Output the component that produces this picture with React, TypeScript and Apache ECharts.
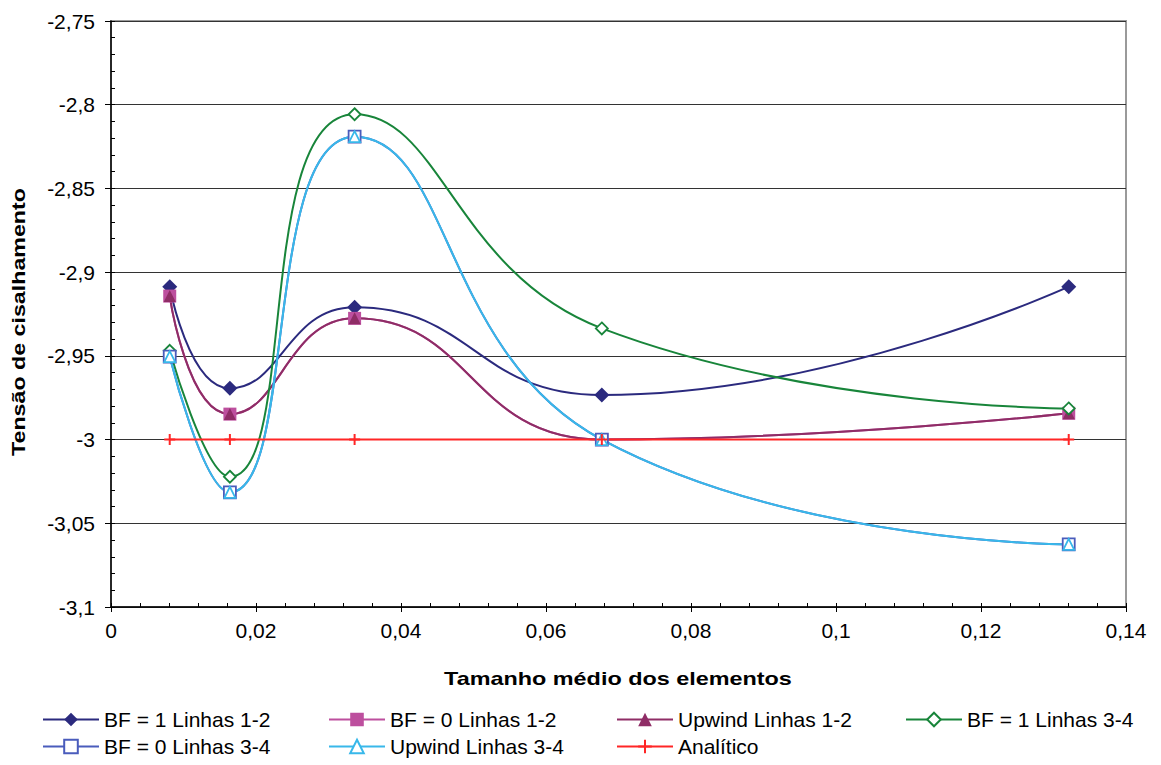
import React, { useEffect, useRef } from "react";
import * as echarts from "echarts";

const xValues = [0.0081, 0.0164, 0.0336, 0.0677, 0.1321];
const bf1L12 = [-2.9087, -2.9694, -2.921, -2.9734, -2.9087];
const bf0L12 = [-2.9143, -2.9848, -2.9276, -3.0, -2.9843];
const upwL12 = [-2.9143, -2.9848, -2.9276, -3.0, -2.9843];
const bf1L34 = [-2.947, -3.0222, -2.8057, -2.9336, -2.9814];
const bf0L34 = [-2.9505, -3.0315, -2.8191, -3.0, -3.0626];
const upwL34 = [-2.9505, -3.0315, -2.8191, -3.0, -3.0626];
const analitico = [-3, -3, -3, -3, -3];

const seriesNames = [
  "BF = 1 Linhas 1-2",
  "BF = 0 Linhas 1-2",
  "Upwind Linhas 1-2",
  "BF = 1 Linhas 3-4",
  "BF = 0 Linhas 3-4",
  "Upwind Linhas 3-4",
  "Analítico",
];

const xTitle = "Tamanho médio dos elementos";
const yTitle = "Tensão de cisalhamento";

const FONT = "'Liberation Sans', Arial, sans-serif";

function fmt(v: number) {
  const r = Math.round(v * 1000) / 1000;
  return String(r).replace(".", ",");
}

export default function App() {
  const ref = useRef<HTMLDivElement>(null);
  useEffect(() => {
    if (!ref.current) return;
    const chart = echarts.init(ref.current, undefined, { renderer: "svg" });
    const pts = (ys: number[]) => xValues.map((x, i) => [x, ys[i]]);
    const cross = "path://M5,0 L5,10 M0,5 L10,5";

    const defs = [
      { data: bf1L12, color: "#2b2a7e", symbol: "diamond", size: 15, hollow: false, smooth: true },
      { data: bf0L12, color: "#bd4f9e", symbol: "rect", size: 13, hollow: false, smooth: true },
      { data: upwL12, color: "#8f2d66", symbol: "triangle", size: 12, hollow: false, smooth: true },
      { data: bf1L34, color: "#18853a", symbol: "diamond", size: 12, hollow: true, smooth: true },
      { data: bf0L34, color: "#4a5cbc", symbol: "rect", size: 12, hollow: true, smooth: true },
      { data: upwL34, color: "#38b8ea", symbol: "triangle", size: 11, hollow: true, smooth: true },
      { data: analitico, color: "#ff2626", symbol: cross, size: 11, hollow: false, smooth: false },
    ];

    const series = defs.map((d, i) => ({
      name: seriesNames[i],
      type: "line",
      data: pts(d.data),
      smooth: d.smooth ? 0.5 : false,
      symbol: d.symbol,
      symbolSize: d.size,
      showSymbol: true,
      lineStyle: { color: d.color, width: 2 },
      itemStyle: d.hollow
        ? { color: "#ffffff", borderColor: d.color, borderWidth: 1.8 }
        : d.symbol === cross
        ? { color: d.color, borderColor: d.color, borderWidth: 2 }
        : { color: d.color, borderColor: d.color, borderWidth: 0 },
      emphasis: { disabled: true },
    }));

    const legendPos = [
      [42, 709],
      [328, 709],
      [616, 709],
      [905, 709],
      [42, 736],
      [328, 736],
      [616, 736],
    ];
    const legends = seriesNames.map((n, i) => ({
      show: true,
      data: [n],
      left: legendPos[i][0],
      top: legendPos[i][1],
      orient: "horizontal",
      itemWidth: 56,
      itemHeight: 17,
      padding: 0,
      selectedMode: false,
      textStyle: { fontFamily: FONT, fontSize: 21, color: "#000" },
    }));

    chart.setOption({
      animation: false,
      backgroundColor: "#ffffff",
      grid: {
        left: 111,
        right: 35,
        top: 21,
        bottom: 158,
        show: true,
        borderColor: "#9a9a9a",
        borderWidth: 2,
        backgroundColor: "transparent",
      },
      legend: legends,
      graphic: [
        {
          type: "text",
          x: 618,
          y: 679,
          scaleX: 1.3,
          silent: true,
          style: {
            text: xTitle,
            fontFamily: FONT,
            fontSize: 18,
            fontWeight: "bold",
            fill: "#000",
            align: "center",
            verticalAlign: "middle",
          },
        },
        {
          type: "text",
          x: 19,
          y: 322,
          rotation: Math.PI / 2,
          scaleX: 1.29,
          silent: true,
          style: {
            text: yTitle,
            fontFamily: FONT,
            fontSize: 18,
            fontWeight: "bold",
            fill: "#000",
            align: "center",
            verticalAlign: "middle",
          },
        },
      ],
      xAxis: [
        {
          type: "value",
          min: 0,
          max: 0.14,
          interval: 0.02,
          position: "bottom",
          axisLine: { show: true, onZero: false, lineStyle: { color: "#000", width: 1.5 } },
          axisTick: { show: true, inside: false, length: 5, lineStyle: { color: "#000", width: 1 } },
          axisLabel: {
            formatter: (v: number) => fmt(v),
            fontFamily: FONT,
            fontSize: 21,
            color: "#000",
            margin: 13,
          },
          splitLine: { show: false },
        },
        {
          type: "value",
          min: 0,
          max: 0.14,
          interval: 0.02,
          position: "bottom",
          axisLine: { show: false },
          axisTick: { show: true, inside: true, length: 4, lineStyle: { color: "#000", width: 1 } },
          minorTick: { show: true, splitNumber: 5, length: 4, lineStyle: { color: "#000", width: 1 } },
          axisLabel: { show: false },
          splitLine: { show: false },
        },
      ],
      yAxis: [
        {
          type: "value",
          min: -3.1,
          max: -2.75,
          interval: 0.05,
          position: "left",
          axisLine: { show: true, onZero: false, lineStyle: { color: "#000", width: 1.5 } },
          axisTick: { show: true, inside: false, length: 6, lineStyle: { color: "#000", width: 1 } },
          axisLabel: {
            formatter: (v: number) => fmt(v),
            fontFamily: FONT,
            fontSize: 21,
            color: "#000",
            margin: 16,
          },
          splitLine: { show: true, lineStyle: { color: "#333", width: 1 } },
        },
        {
          type: "value",
          min: -3.1,
          max: -2.75,
          interval: 0.05,
          position: "left",
          axisLine: { show: false },
          axisTick: { show: true, inside: true, length: 4, lineStyle: { color: "#000", width: 1 } },
          minorTick: { show: true, splitNumber: 5, length: 4, lineStyle: { color: "#000", width: 1 } },
          axisLabel: { show: false },
          splitLine: { show: false },
        },
      ],
      series,
    });
    return () => chart.dispose();
  }, []);
  return <div ref={ref} style={{ width: 1161, height: 765, position: "absolute", left: 0, top: 0 }} />;
}
